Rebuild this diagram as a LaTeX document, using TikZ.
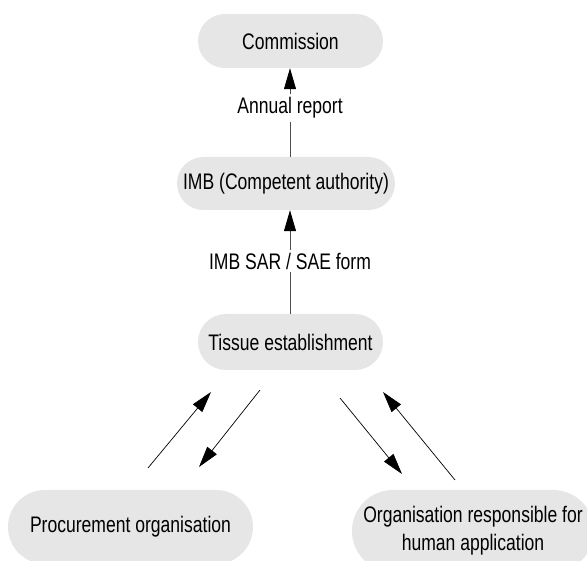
\documentclass[tikz,border=0pt]{standalone}
\usepackage{fontspec}
\setmainfont{Liberation Sans}[FakeStretch=0.78]
\usetikzlibrary{arrows.meta}
\definecolor{boxgray}{RGB}{230,230,230}
\tikzset{
  box/.style={fill=boxgray, draw=none, inner sep=0pt, align=center, font=\fontsize{22.5}{28}\selectfont},
  lbl/.style={inner sep=3pt, font=\fontsize{22.5}{24}\selectfont},
  vline/.style={draw=black!70, line width=0.8pt},
  dline/.style={draw=black, line width=0.7pt},
  tip/.style={-{Triangle[length=21pt,width=12pt,color=black]}}
}
\begin{document}
\begin{tikzpicture}[x=1pt,y=-1pt]
\clip (0,0) rectangle (587,561);
\useasboundingbox (0,0) rectangle (587,561);
\node[box, minimum width=185pt, minimum height=54pt, rounded corners=26.9pt] (comm) at (290.5,41) {Commission};
\node[box, minimum width=218pt, minimum height=53pt, rounded corners=26.4pt] (imb) at (286,183.5) {IMB (Competent authority)};
\node[box, minimum width=185pt, minimum height=56pt, rounded corners=27.9pt] (tis) at (290.5,342) {Tissue establishment};
\node[box, minimum width=245pt, minimum height=74pt, rounded corners=36.9pt] (proc) at (130.5,527) {Procurement organisation};
\node[box, minimum width=242pt, minimum height=82pt, rounded corners=40.9pt] (org) at (473,531) {Organisation responsible for\\human application};
\node[lbl] (ann) at (290,108) {Annual report};
\node[lbl] (sar) at (290,261) {IMB SAR / SAE form};
\draw[vline, tip] (ann.north) -- (ann.north |- comm.south);
\draw[vline] (ann.north |- imb.north) -- (ann.south);
\draw[vline, tip] (sar.north) -- (sar.north |- imb.south);
\draw[vline] (sar.north |- tis.north) -- (sar.south);
\coordinate (a1) at (148,468);
\coordinate (a2) at (211,392);
\coordinate (b1) at (260,390);
\coordinate (b2) at (199,467);
\coordinate (c1) at (340,398);
\coordinate (c2) at (402,474);
\coordinate (d1) at (455,480);
\coordinate (d2) at (383,392);
\draw[dline, tip] (a1) -- (a2);
\draw[dline, tip] (b1) -- (b2);
\draw[dline, tip] (c1) -- (c2);
\draw[dline, tip] (d1) -- (d2);
\end{tikzpicture}
\end{document}
